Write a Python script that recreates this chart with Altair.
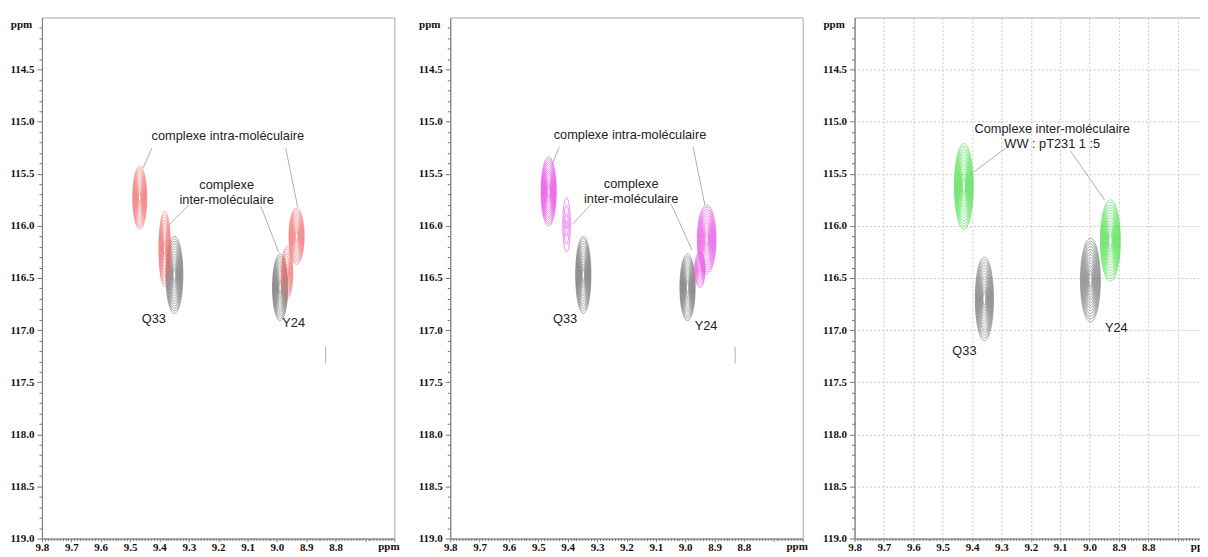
import numpy as np
import pandas as pd
import altair as alt

# ---------------- data (ppm) ----------------
# Panel 1 : WW + pT231 (red)
P1_KEY = ["Q33 libre", "Y24 libre", "Q33 intra", "Q33 inter", "Y24 intra", "Y24 inter"]
P1_X = [9.349, 8.989, 9.467, 9.382, 8.933, 8.965]
P1_Y = [116.47, 116.59, 115.73, 116.22, 116.10, 116.45]
P1_HW = [0.029, 0.026, 0.024, 0.020, 0.026, 0.019]
P1_HH = [0.37, 0.32, 0.30, 0.36, 0.27, 0.25]
P1_COLOR = ["#6e6e6e", "#6e6e6e", "#f07272", "#f07272", "#f07272", "#f07272"]
P1_LEVELS = [14, 14, 14, 12, 14, 10]

# Panel 2 : (magenta)
P2_KEY = ["Q33 libre", "Y24 libre", "Q33 intra", "Q33 inter", "Y24 intra", "Y24 queue"]
P2_X = [9.347, 8.992, 9.465, 9.404, 8.927, 8.950]
P2_Y = [116.47, 116.59, 115.67, 115.99, 116.13, 116.42]
P2_HW = [0.026, 0.026, 0.026, 0.013, 0.032, 0.018]
P2_HH = [0.37, 0.32, 0.33, 0.26, 0.33, 0.17]
P2_COLOR = ["#6e6e6e", "#6e6e6e", "#e444e4", "#e444e4", "#e444e4", "#e444e4"]
P2_LEVELS = [14, 14, 14, 4, 14, 8]

# Panel 3 : WW : pT231 1:5 (green)
P3_KEY = ["Q33 libre", "Y24 libre", "Q33 inter", "Y24 inter"]
P3_X = [9.358, 8.997, 9.428, 8.929]
P3_Y = [116.70, 116.52, 115.62, 116.14]
P3_HW = [0.031, 0.034, 0.032, 0.034]
P3_HH = [0.40, 0.40, 0.41, 0.39]
P3_COLOR = ["#6e6e6e", "#6e6e6e", "#3ddc3d", "#3ddc3d"]
P3_LEVELS = [14, 14, 14, 14]

# Labels
P1_TEXT = ["complexe intra-moléculaire", "complexe\ninter-moléculaire", "Q33", "Y24"]
P1_TX = [9.167, 9.171, 9.419, 8.943]
P1_TY = [115.14, 115.61, 116.89, 116.93]
P2_TEXT = ["complexe intra-moléculaire", "complexe\ninter-moléculaire", "Q33", "Y24"]
P2_TX = [9.188, 9.184, 9.409, 8.929]
P2_TY = [115.13, 115.595, 116.89, 116.96]
P3_TEXT = ["Complexe inter-moléculaire\nWW : pT231 1 :5", "Q33", "Y24"]
P3_TX = [9.127, 9.426, 8.909]
P3_TY = [115.07, 117.20, 116.98]

# Leader lines (x, y) -> (x2, y2)
P1_LX = [9.426, 8.970, 9.300, 9.055, 8.834]
P1_LY = [115.255, 115.255, 115.80, 115.81, 117.16]
P1_LX2 = [9.456, 8.929, 9.368, 8.994, 8.834]
P1_LY2 = [115.446, 115.82, 115.99, 116.25, 117.32]
P2_LX = [9.429, 8.973, 9.320, 9.048, 8.830]
P2_LY = [115.245, 115.245, 115.79, 115.79, 117.16]
P2_LX2 = [9.453, 8.933, 9.382, 8.977, 8.830]
P2_LY2 = [115.408, 115.80, 115.98, 116.23, 117.32]
P3_LX = [9.286, 9.065]
P3_LY = [115.255, 115.28]
P3_LX2 = [9.395, 8.949]
P3_LY2 = [115.485, 115.75]

# Axis ticks
X_TICKS = [round(v, 2) for v in np.arange(8.60, 9.8001, 0.01)]
Y_TICKS = [round(v, 1) for v in np.arange(114.1, 119.001, 0.1)]
X_DOMAIN = [8.6, 9.8]
Y_DOMAIN = [114.0, 119.0]

MAJ_X = "abs(datum.value*10 - round(datum.value*10)) < 0.001"
MAJ_Y = "abs(datum.value*2 - round(datum.value*2)) < 0.001"


def contour_table(keys, xs, ys, hws, hhs, cols, levels):
    rows = []
    t = np.linspace(0, 2 * np.pi, 61)
    for key, cx, cy, hw, hh, col, n in zip(keys, xs, ys, hws, hhs, cols, levels):
        for k in range(n):
            s = 1.0 - k * (0.85 / max(n - 1, 1))
            for i, a in enumerate(t):
                rows.append({"key": f"{key}-{k}", "i": i,
                             "x": cx + hw * s * np.cos(a),
                             "y": cy + hh * s * np.sin(a),
                             "color": col})
    return pd.DataFrame(rows)


def make_panel(cdf, tdf, ldf, grid):
    xs = alt.Scale(domain=X_DOMAIN, reverse=True, nice=False, zero=False)
    ys = alt.Scale(domain=Y_DOMAIN, reverse=True, nice=False, zero=False)
    xaxis = alt.Axis(
        values=X_TICKS, title="ppm", titleX=347, titleY=2, titleAlign="center",
        titleBaseline="top", labelOverlap=False, labelFlush=False, labelPadding=0,
        labelExpr=f"({MAJ_X}) && datum.value > 8.75 ? format(datum.value, '.1f') : ''",
        labelFontSize={"condition": {"test": MAJ_X, "value": 11}, "value": 0},
        tickSize={"condition": {"test": MAJ_X, "value": 3}, "value": 2},
        grid=grid,
        gridOpacity={"condition": {"test": MAJ_X, "value": 1}, "value": 0},
        gridColor="#c8c8c8", gridDash=[2, 2],
    )
    yaxis = alt.Axis(
        values=Y_TICKS, title="ppm", titleX=-21, titleY=7, titleAngle=0,
        titleAlign="center", titleBaseline="middle", labelOverlap=False,
        labelFlush=False, labelPadding=3,
        labelExpr=f"({MAJ_Y}) && datum.value > 114.2 ? format(datum.value, '.1f') : ''",
        labelFontSize={"condition": {"test": MAJ_Y, "value": 11}, "value": 0},
        tickSize={"condition": {"test": MAJ_Y, "value": 5}, "value": 3},
        grid=grid,
        gridOpacity={"condition": {"test": MAJ_Y, "value": 1}, "value": 0},
        gridColor="#c8c8c8", gridDash=[2, 2],
    )
    X = alt.X("x:Q", scale=xs, axis=xaxis)
    Y = alt.Y("y:Q", scale=ys, axis=yaxis)
    contours = alt.Chart(cdf).mark_line(strokeWidth=0.6, clip=True).encode(
        X, Y, detail="key:N", order="i:Q", color=alt.Color("color:N", scale=None))
    rules = alt.Chart(ldf).mark_rule(color="#9a9a9a", strokeWidth=0.8).encode(
        X, Y, x2="x2:Q", y2="y2:Q")
    texts = alt.Chart(tdf).mark_text(
        font="Liberation Sans", fontSize=12.8, color="#222", lineBreak="\n",
        lineHeight=15, baseline="middle").encode(X, Y, text="text:N")
    return alt.layer(contours, rules, texts).properties(width=353, height=522)


p1 = make_panel(
    contour_table(P1_KEY, P1_X, P1_Y, P1_HW, P1_HH, P1_COLOR, P1_LEVELS),
    pd.DataFrame({"x": P1_TX, "y": P1_TY, "text": P1_TEXT}),
    pd.DataFrame({"x": P1_LX, "y": P1_LY, "x2": P1_LX2, "y2": P1_LY2}),
    False)
p2 = make_panel(
    contour_table(P2_KEY, P2_X, P2_Y, P2_HW, P2_HH, P2_COLOR, P2_LEVELS),
    pd.DataFrame({"x": P2_TX, "y": P2_TY, "text": P2_TEXT}),
    pd.DataFrame({"x": P2_LX, "y": P2_LY, "x2": P2_LX2, "y2": P2_LY2}),
    False)
p3 = make_panel(
    contour_table(P3_KEY, P3_X, P3_Y, P3_HW, P3_HH, P3_COLOR, P3_LEVELS),
    pd.DataFrame({"x": P3_TX, "y": P3_TY, "text": P3_TEXT}),
    pd.DataFrame({"x": P3_LX, "y": P3_LY, "x2": P3_LX2, "y2": P3_LY2}),
    True)

chart = alt.hconcat(alt.hconcat(p1, p2, spacing=17), p3, spacing=13).properties(
    padding={"left": 1, "top": 8, "right": -13, "bottom": 0}
).configure_axis(
    labelFont="Liberation Serif", labelFontWeight="bold", labelFontSize=11,
    labelColor="#111", titleFont="Liberation Serif", titleFontWeight="bold",
    titleFontSize=11, titleColor="#111", domainColor="#777", tickColor="#777",
).configure_view(stroke="#aaa", strokeWidth=1)

chart.save("out.html", embed_options={"renderer": "svg", "actions": False})
